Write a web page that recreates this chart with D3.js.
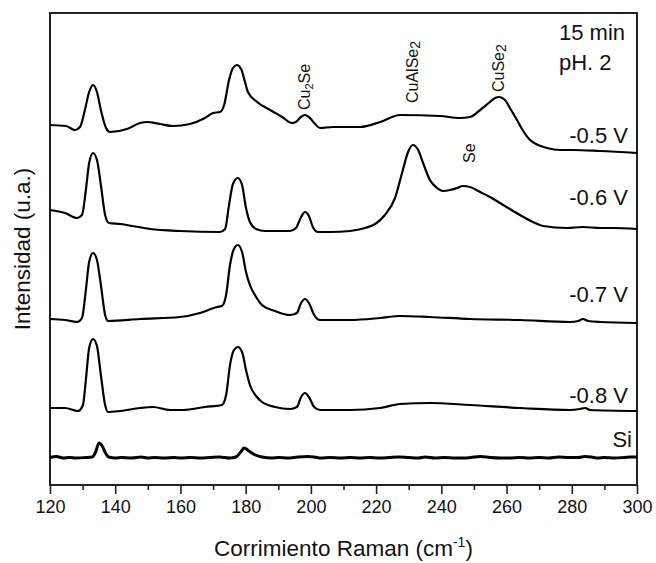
<!DOCTYPE html>
<html><head><meta charset="utf-8">
<script src="https://cdn.jsdelivr.net/npm/d3@7"></script>
<style>
html,body{margin:0;padding:0;background:#fff;}
svg{display:block;font-family:"Liberation Sans",Arial,sans-serif;}
</style></head>
<body>
<svg id="chart" width="656" height="563"></svg>
<script>
// ---- DATA (wavenumber cm^-1, intensity a.u. with stacking offset) ----
const xTicks = [120,140,160,180,200,220,240,260,280,300];
const xMinorTicks = [130,150,170,190,210,230,250,270,290];

const s05 = [[120,360],[124.9,359],[127.7,355],[129.2,358],[130.7,375],[132.0,393],[133.2,400],[134.4,393],[135.6,375],[137.2,357],[138.4,353],[143.6,356],[147.6,362],[149.7,363],[153.7,361],[157.7,359],[162.9,361],[167.5,367],[170.0,372],[172.1,373],[173.4,380],[174.9,405],[176.1,417],[177.3,420],[178.6,416],[179.8,403],[180.7,393],[183.5,383],[187.5,375],[191.2,368],[194.2,362],[195.4,363],[196.9,368],[198.2,370],[199.4,368],[201.3,361],[202.8,357],[206.8,358],[215.1,358],[221.2,363],[227.3,370],[239.6,369],[245.7,367],[248.8,368],[251.9,375],[254.9,383],[256.5,387],[257.7,388],[259.5,385],[261.4,375],[263.2,365],[265.1,354],[267.2,345],[269.7,340],[272.4,337],[276.4,335],[280.4,335],[288.7,334],[300,332]];

const s06 = [[120,275],[124.6,272],[128.3,267],[129.8,270],[131.0,295],[132.0,322],[133.2,332],[134.4,325],[135.6,300],[136.9,270],[138.1,262],[141.5,261],[150.7,256],[159.9,254],[172.1,253],[173.7,256],[174.9,280],[176.1,301],[177.6,307],[178.9,300],[180.1,277],[181.3,263],[183.2,256],[185.9,254],[193.6,254],[195.4,257],[197.0,268],[198.2,273],[199.4,269],[200.6,258],[202.2,253],[205.9,253],[212.0,254],[216.6,257],[219.7,261],[222.7,270],[225.8,287],[228.2,315],[229.8,333],[231.3,340],[232.9,335],[234.4,322],[236.5,305],[238.7,297],[240.5,294],[242.7,295],[244.8,297],[246.6,299],[248.8,298],[251.9,293],[254.9,288],[259.5,279],[264.1,270],[268.1,263],[271.2,259],[278.5,257],[283.4,258],[288.7,257],[292.6,257],[300,256]];

const s07 = [[120,166],[124.6,165],[128.3,163],[129.8,167],[131.0,195],[132.0,223],[133.2,232],[134.4,225],[135.6,200],[136.9,170],[137.8,164],[147.6,166],[159.9,168],[166.0,172],[171.2,178],[172.7,179],[174.0,190],[175.2,220],[176.4,236],[177.6,240],[178.9,233],[180.1,213],[181.3,200],[183.2,188],[185.0,180],[189.0,174],[193.6,170],[195.7,172],[197.0,182],[198.2,186],[199.4,182],[201.0,170],[202.8,165],[212.0,165],[221.2,167],[227.3,169],[236.5,168],[248.8,166],[264.1,165],[279.5,163],[282.0,164],[283.4,166],[285.0,164],[288.7,163],[300,162]];

const s08 = [[120,77],[124.6,77],[128.6,74],[130.1,80],[131.0,105],[132.0,137],[133.2,146],[134.4,139],[135.6,110],[136.9,80],[137.8,73],[141.5,74],[147.6,77],[151.6,78],[156.8,75],[160.8,75],[167.5,78],[172.7,80],[174.0,90],[175.2,120],[176.4,135],[177.6,138],[178.9,133],[180.1,115],[181.3,100],[183.2,89],[185.0,83],[189.0,78],[193.6,76],[195.7,78],[197.0,88],[198.2,92],[199.4,88],[201.0,78],[202.8,75],[212.0,75],[221.2,77],[227.3,81],[236.5,82],[248.8,80],[264.1,77],[279.5,75],[282.5,76],[284.1,77],[285.6,75],[300,74]];

const sSi = [[120,27.5],[122,28.5],[124,27],[126,27.5],[128,27],[131,27.5],[133,28],[134,33],[135,42],[136,39],[137,32],[138,28],[140,27],[142,27.5],[145,27],[148,28],[150,27],[152,27.5],[155,27],[158,27.5],[160,27],[163,27.5],[166,27],[169,27.5],[172,28],[175,27],[177,28],[178.5,33],[179.5,37],[181,34],[183,30],[185,28],[188,27],[190,27.5],[193,27],[196,28],[199,28.5],[201,28],[203,27],[206,27.5],[209,27],[212,27.5],[215,27],[218,27.5],[221,27],[224,27.5],[227,28],[230,27.5],[233,27],[235,28],[238,27],[241,27.5],[244,27],[247,27],[249,27.5],[252,28.5],[255,27.5],[258,27],[261,27],[264,27.5],[267,27],[270,27.5],[273,27],[276,28],[279,27.5],[282,27.5],[284,28.5],[286,28],[288,27],[290,27.5],[293,27],[296,27.5],[298,28],[300,28]];

const seriesNames = ["-0.5 V","-0.6 V","-0.7 V","-0.8 V","Si"];
const seriesData = [s05, s06, s07, s08, sSi];
const seriesLabelY = [342, 280, 183, 82, 38];   // label baseline in data units

const peakLabels = ["Cu2Se","CuAlSe2","CuSe2","Se"];
const peakLabelX = [198.2, 231.3, 257.7, 248.8];
const peakLabelY = [375, 382, 393, 322];  // bottom of rotated text, data units

// ---- LAYOUT ----
const W = 656, H = 563;
const m = {left:50, right:19, top:13, bottom:78};
const svg = d3.select("#chart");
const x = d3.scaleLinear().domain([120,300]).range([m.left, W - m.right]);
const y = d3.scaleLinear().domain([0,472]).range([H - m.bottom, m.top]);

// frame
svg.append("rect").attr("x", m.left).attr("y", m.top)
  .attr("width", W - m.right - m.left).attr("height", H - m.bottom - m.top)
  .attr("fill","none").attr("stroke","#222").attr("stroke-width",2);

// x axis
const xAxis = d3.axisBottom(x).tickValues(xTicks).tickSize(9).tickPadding(6).tickFormat(d3.format("d"));
const gx = svg.append("g").attr("transform",`translate(0,${H - m.bottom})`).call(xAxis);
gx.select(".domain").remove();
gx.selectAll("line").attr("stroke","#222").attr("stroke-width",1.6);
gx.selectAll("text").attr("font-size",18).attr("fill","#111").attr("font-family","Liberation Sans, Arial, sans-serif");
const gxm = svg.append("g").attr("transform",`translate(0,${H - m.bottom})`)
  .call(d3.axisBottom(x).tickValues(xMinorTicks).tickSize(5).tickFormat(""));
gxm.select(".domain").remove();
gxm.selectAll("line").attr("stroke","#222").attr("stroke-width",1.6);

// titles
const xt = svg.append("text").attr("x", (m.left + W - m.right)/2).attr("y", 556)
  .attr("text-anchor","middle").attr("font-size",22.5).attr("fill","#111");
xt.append("tspan").text("Corrimiento Raman (cm");
xt.append("tspan").attr("font-size",14).attr("dy",-9).text("-1");
xt.append("tspan").attr("dy",9).text(")");

svg.append("text").attr("transform",`translate(30,${(m.top + H - m.bottom)/2}) rotate(-90)`)
  .attr("text-anchor","middle").attr("font-size",22.5).attr("fill","#111")
  .text("Intensidad (u.a.)");

// lines
const line = d3.line().x(d => x(d[0])).y(d => y(d[1])).curve(d3.curveMonotoneX);
svg.append("g").selectAll("path").data(seriesData).join("path")
  .attr("d", line).attr("fill","none").attr("stroke","#000")
  .attr("stroke-width",(d,i) => i === 4 ? 3 : 2.2).attr("stroke-linejoin","round");

// series labels
svg.append("g").selectAll("text").data(seriesNames).join("text")
  .attr("x", (d,i) => i === 4 ? 632 : 628).attr("y", (d,i) => y(seriesLabelY[i]))
  .attr("text-anchor","end").attr("font-size",22).attr("fill","#111").text(d => d);

// condition text
svg.append("text").attr("x",559).attr("y",40).attr("font-size",22).attr("fill","#111").text("15 min");
svg.append("text").attr("x",559).attr("y",70).attr("font-size",22).attr("fill","#111").text("pH. 2");

// peak labels (rotated)
peakLabels.forEach((lab,i) => {
  const t = svg.append("text")
    .attr("transform",`translate(${x(peakLabelX[i]) + 5},${y(peakLabelY[i])}) rotate(-90)`)
    .attr("font-size",16).attr("fill","#111");
  const mm = lab.match(/^(.*?)(\d)(.*)$/);
  if (mm) {
    const sub = mm[3] ? 11 : 14;
    t.append("tspan").text(mm[1]);
    t.append("tspan").attr("font-size",sub).attr("dy",mm[3] ? 3 : 2).text(mm[2]);
    if (mm[3]) t.append("tspan").attr("dy",-3).text(mm[3]);
  } else t.text(lab);
});
</script>
</body></html>
